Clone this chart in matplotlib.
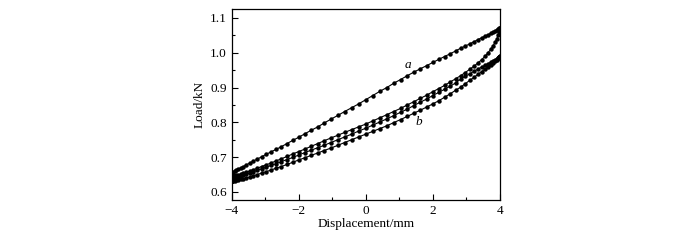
import numpy as np
import matplotlib
matplotlib.use('Agg')
import matplotlib.pyplot as plt
from matplotlib.ticker import MultipleLocator

# Displacement sample positions (mm), shared by every branch
disp = [-4.00, -3.99, -3.98, -3.95, -3.91, -3.86, -3.80, -3.73, -3.65, -3.56,
        -3.46, -3.35, -3.24, -3.11, -2.97, -2.83, -2.68, -2.52, -2.35, -2.18,
        -2.00, -1.82, -1.63, -1.43, -1.24, -1.04, -0.83, -0.63, -0.42, -0.21,
        0.00, 0.21, 0.42, 0.63, 0.83, 1.04, 1.24, 1.43, 1.63, 1.82,
        2.00, 2.18, 2.35, 2.52, 2.68, 2.83, 2.97, 3.11, 3.24, 3.35,
        3.46, 3.56, 3.65, 3.73, 3.80, 3.86, 3.91, 3.95, 3.98, 3.99, 4.00]

# Loop a (kN): loading and unloading branches
a_load = [0.646, 0.649, 0.652, 0.656, 0.659, 0.662, 0.665, 0.669, 0.673, 0.678,
          0.683, 0.689, 0.694, 0.701, 0.708, 0.715, 0.722, 0.730, 0.739, 0.748,
          0.757, 0.767, 0.777, 0.787, 0.798, 0.809, 0.820, 0.831, 0.842, 0.853,
          0.865, 0.877, 0.889, 0.900, 0.912, 0.923, 0.934, 0.944, 0.954, 0.963,
          0.972, 0.981, 0.989, 0.997, 1.005, 1.013, 1.019, 1.026, 1.032, 1.038,
          1.043, 1.048, 1.052, 1.056, 1.059, 1.062, 1.065, 1.067, 1.069, 1.070, 1.070]
a_unload = [0.646, 0.646, 0.646, 0.646, 0.647, 0.648, 0.649, 0.651, 0.654, 0.657,
            0.660, 0.664, 0.668, 0.673, 0.678, 0.683, 0.689, 0.695, 0.702, 0.709,
            0.716, 0.723, 0.731, 0.739, 0.747, 0.755, 0.763, 0.771, 0.779, 0.787,
            0.795, 0.804, 0.813, 0.822, 0.831, 0.840, 0.850, 0.859, 0.869, 0.878,
            0.888, 0.897, 0.906, 0.916, 0.925, 0.934, 0.943, 0.953, 0.962, 0.971,
            0.980, 0.990, 1.000, 1.010, 1.020, 1.030, 1.040, 1.050, 1.060, 1.065, 1.070]

# Loop b (kN)
b_load = [0.632, 0.633, 0.634, 0.636, 0.638, 0.640, 0.642, 0.645, 0.648, 0.651,
          0.654, 0.658, 0.662, 0.666, 0.671, 0.676, 0.681, 0.687, 0.693, 0.699,
          0.706, 0.713, 0.720, 0.727, 0.734, 0.742, 0.750, 0.758, 0.766, 0.775,
          0.783, 0.792, 0.801, 0.810, 0.819, 0.829, 0.838, 0.848, 0.858, 0.867,
          0.877, 0.886, 0.895, 0.904, 0.913, 0.924, 0.932, 0.940, 0.947, 0.953,
          0.959, 0.964, 0.969, 0.973, 0.977, 0.980, 0.983, 0.986, 0.988, 0.989, 0.990]
b_unload = [0.632, 0.631, 0.631, 0.631, 0.632, 0.633, 0.634, 0.636, 0.638, 0.640,
            0.643, 0.646, 0.650, 0.654, 0.658, 0.663, 0.668, 0.673, 0.679, 0.685,
            0.692, 0.698, 0.705, 0.712, 0.719, 0.726, 0.734, 0.742, 0.750, 0.758,
            0.766, 0.774, 0.782, 0.790, 0.799, 0.808, 0.817, 0.826, 0.835, 0.844,
            0.853, 0.862, 0.872, 0.882, 0.892, 0.901, 0.911, 0.921, 0.930, 0.938,
            0.946, 0.953, 0.960, 0.966, 0.971, 0.976, 0.980, 0.984, 0.987, 0.989, 0.990]

loop_labels = ['a', 'b']
label_pos = [(1.25, 0.966), (1.58, 0.800)]

plt.rcParams['font.family'] = ['Liberation Serif', 'DejaVu Serif']

fig = plt.figure(figsize=(7, 2.4), dpi=100)
ax = fig.add_axes([0.331, 0.167, 0.383, 0.796])

x = np.array(disp)
for up, down in [(a_load, a_unload), (b_load, b_unload)]:
    xs = np.concatenate([x, x[::-1]])
    ys = np.concatenate([np.array(up), np.array(down)[::-1]])
    ax.plot(xs, ys, color='black', lw=0.8, marker='o', ms=3.2,
            markeredgewidth=0)

for lab, (lx, ly) in zip(loop_labels, label_pos):
    ax.text(lx, ly, lab, fontsize=9.5, style='italic', ha='center', va='center')

ax.set_xlim(-4, 4)
ax.set_ylim(0.577, 1.126)
ax.xaxis.set_major_locator(MultipleLocator(2))
ax.xaxis.set_minor_locator(MultipleLocator(1))
ax.yaxis.set_major_locator(MultipleLocator(0.1))
ax.yaxis.set_minor_locator(MultipleLocator(0.05))
ax.xaxis.set_major_formatter(plt.FuncFormatter(lambda v, p: f'{v:.0f}'.replace('-', '\u2212')))
ax.yaxis.set_major_formatter(plt.FuncFormatter(lambda v, p: f'{v:.1f}'))
ax.tick_params(which='both', direction='in', labelsize=9.5, width=0.8,
               top=False, right=False)
ax.tick_params(which='major', length=4)
ax.tick_params(which='minor', length=2)
for s in ax.spines.values():
    s.set_linewidth(0.9)

ax.set_xlabel('Displacement/mm', fontsize=9.5, labelpad=1)
ax.set_ylabel('Load/kN', fontsize=9.5, labelpad=3)

fig.savefig('out.png', dpi=100)
